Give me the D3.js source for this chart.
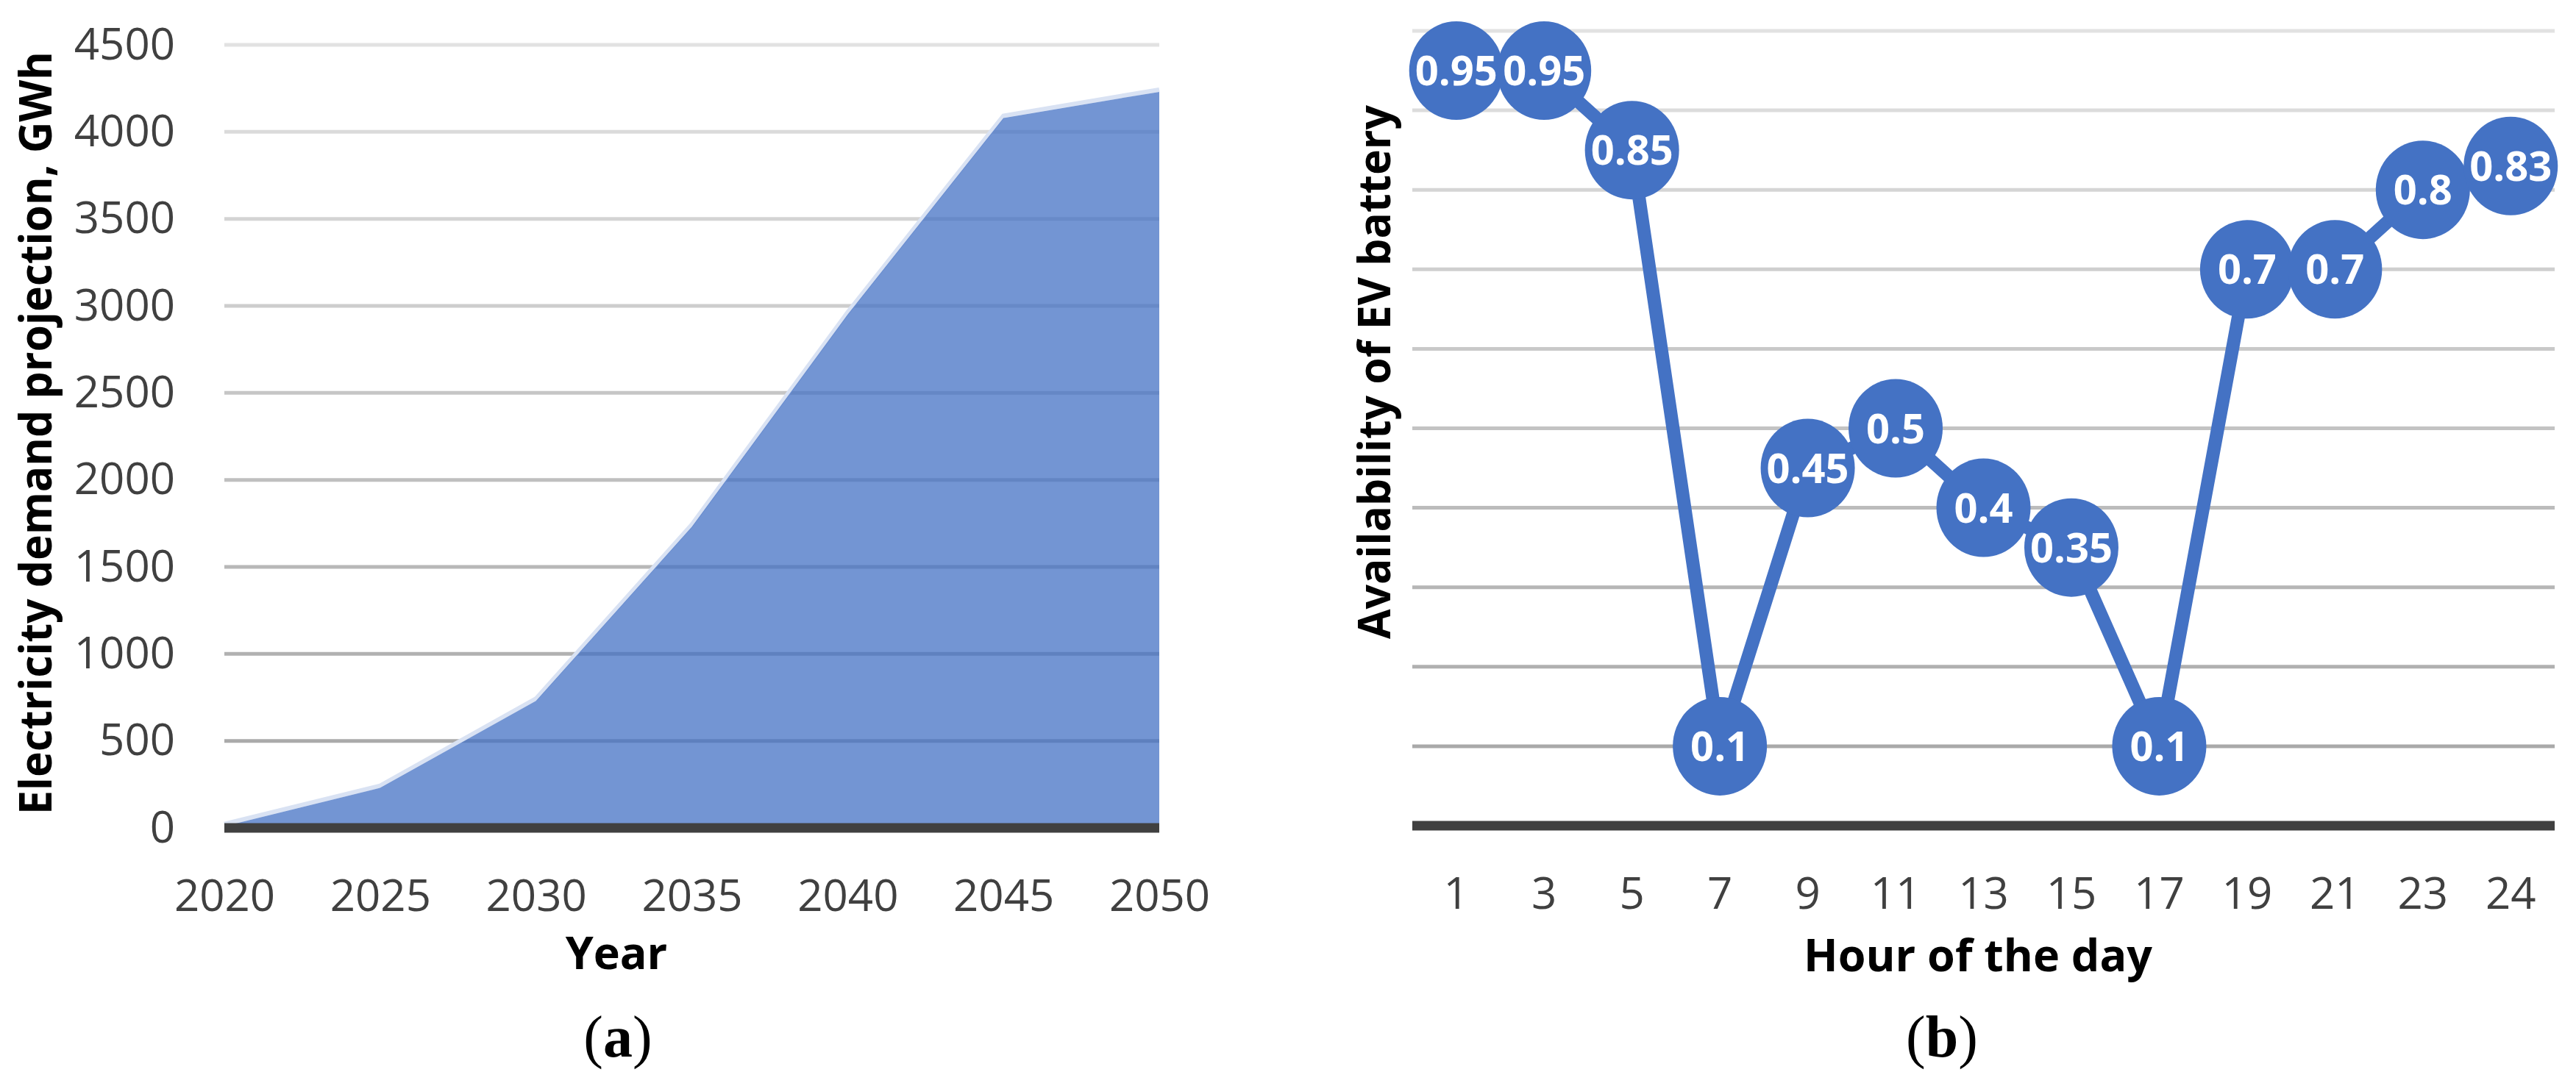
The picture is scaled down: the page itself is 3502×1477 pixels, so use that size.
<!DOCTYPE html>
<html>
<head>
<meta charset="utf-8">
<script src="https://cdn.jsdelivr.net/npm/d3@7"></script>
<style>
  body { margin: 0; background: #fff; }
  svg { display: block; }
</style>
</head>
<body>
<div id="chart"></div>
<script>
// panel (a) - electricity demand projection
var years = [2020, 2025, 2030, 2035, 2040, 2045, 2050];
var demand = [10, 230, 730, 1730, 2950, 4080, 4230];
var demandTicks = [0, 500, 1000, 1500, 2000, 2500, 3000, 3500, 4000, 4500];

// panel (b) - EV battery availability
var hours = ["1", "3", "5", "7", "9", "11", "13", "15", "17", "19", "21", "23", "24"];
var availability = [0.95, 0.95, 0.85, 0.1, 0.45, 0.5, 0.4, 0.35, 0.1, 0.7, 0.7, 0.8, 0.83];
var availTicks = [0.1, 0.2, 0.3, 0.4, 0.5, 0.6, 0.7, 0.8, 0.9, 1.0];

var W = 3502, H = 1477;
var blue = "#4472C4", dark = "#404040";
var font = "'Open Sans', 'Noto Sans', sans-serif";

var svg = d3.select("#chart").append("svg")
  .attr("width", W).attr("height", H)
  .style("font-family", font);

svg.append("rect").attr("width", W).attr("height", H).attr("fill", "#fff");

// gridlines get darker toward the bottom
function gridColor(t) { return d3.interpolateRgb("#e2e2e2", "#a3a3a3")(t); }

// ---------- (a) ----------
var xA = d3.scalePoint().domain(years).range([305, 1576]);
var yA = d3.scaleLinear().domain([0, 4500]).range([1126, 61]);

var gA = svg.append("g");

gA.selectAll(".gridA")
  .data(demandTicks.filter(function(d) { return d > 0; }))
  .enter().append("line")
  .attr("x1", xA.range()[0]).attr("x2", xA.range()[1])
  .attr("y1", function(d) { return yA(d); })
  .attr("y2", function(d) { return yA(d); })
  .attr("stroke", function(d) { return gridColor(1 - d / 4500); })
  .attr("stroke-width", 5);

var pts = years.map(function(y, i) { return [xA(y), yA(demand[i])]; });

// light edge along the top of the area
gA.append("path")
  .attr("d", d3.line()(pts))
  .attr("transform", "translate(0,-3)")
  .attr("fill", "none")
  .attr("stroke", "#d9e2f3")
  .attr("stroke-width", 6);

gA.append("path")
  .attr("d", d3.area()
    .x(function(d, i) { return xA(years[i]); })
    .y0(yA(0))
    .y1(function(d) { return yA(d); })(demand))
  .attr("fill", blue)
  .attr("fill-opacity", 0.75);

gA.append("line")
  .attr("x1", xA.range()[0]).attr("x2", xA.range()[1])
  .attr("y1", yA(0)).attr("y2", yA(0))
  .attr("stroke", dark).attr("stroke-width", 13);

var axYA = gA.append("g")
  .attr("transform", "translate(305,0)")
  .call(d3.axisLeft(yA).tickValues(demandTicks).tickFormat(d3.format("d")).tickSize(0).tickPadding(67));
axYA.select(".domain").remove();

var axXA = gA.append("g")
  .attr("transform", "translate(0," + yA(0) + ")")
  .call(d3.axisBottom(xA).tickFormat(d3.format("d")).tickSize(0).tickPadding(70));
axXA.select(".domain").remove();

gA.selectAll(".tick text")
  .attr("font-family", font)
  .attr("font-size", 60)
  .attr("fill", dark);

gA.append("text")
  .attr("transform", "translate(70,589) rotate(-90)")
  .attr("text-anchor", "middle")
  .attr("font-size", 61).attr("font-weight", "bold")
  .attr("textLength", 1038).attr("lengthAdjust", "spacingAndGlyphs")
  .attr("fill", "#000")
  .text("Electricity demand projection, GWh");

gA.append("text")
  .attr("x", 838).attr("y", 1318)
  .attr("text-anchor", "middle")
  .attr("font-size", 61).attr("font-weight", "bold")
  .attr("fill", "#000")
  .text("Year");

// ---------- (b) ----------
var xB = d3.scaleBand().domain(hours).range([1920, 3473]);
var yB = d3.scaleLinear().domain([0, 1]).range([1123, 42]);
function cx(h) { return xB(h) + xB.bandwidth() / 2; }

var gB = svg.append("g");

gB.selectAll(".gridB")
  .data(availTicks)
  .enter().append("line")
  .attr("x1", xB.range()[0]).attr("x2", xB.range()[1])
  .attr("y1", function(d) { return yB(d); })
  .attr("y2", function(d) { return yB(d); })
  .attr("stroke", function(d) { return gridColor(1 - d); })
  .attr("stroke-width", 5);

gB.append("line")
  .attr("x1", xB.range()[0]).attr("x2", xB.range()[1])
  .attr("y1", yB(0)).attr("y2", yB(0))
  .attr("stroke", dark).attr("stroke-width", 13);

var axXB = gB.append("g")
  .attr("transform", "translate(0," + yB(0) + ")")
  .call(d3.axisBottom(xB).tickSize(0).tickPadding(70));
axXB.select(".domain").remove();
axXB.selectAll(".tick text")
  .attr("font-family", font)
  .attr("font-size", 60)
  .attr("fill", dark);

gB.append("path")
  .attr("d", d3.line()
    .x(function(d, i) { return cx(hours[i]); })
    .y(function(d) { return yB(d); })(availability))
  .attr("fill", "none")
  .attr("stroke", blue)
  .attr("stroke-width", 18)
  .attr("stroke-linejoin", "round");

var marks = gB.selectAll(".mark")
  .data(availability)
  .enter().append("g")
  .attr("transform", function(d, i) { return "translate(" + cx(hours[i]) + "," + yB(d) + ")"; });

marks.append("ellipse")
  .attr("rx", 64).attr("ry", 67)
  .attr("fill", blue);

marks.append("text")
  .attr("text-anchor", "middle")
  .attr("dy", "0.36em")
  .attr("font-size", 56).attr("font-weight", "bold")
  .attr("fill", "#fff")
  .text(function(d) { return d; });

gB.append("text")
  .attr("transform", "translate(1890,506) rotate(-90)")
  .attr("text-anchor", "middle")
  .attr("font-size", 61).attr("font-weight", "bold")
  .attr("textLength", 726).attr("lengthAdjust", "spacingAndGlyphs")
  .attr("fill", "#000")
  .text("Availability of EV battery");

gB.append("text")
  .attr("x", 2689).attr("y", 1321)
  .attr("text-anchor", "middle")
  .attr("font-size", 61).attr("font-weight", "bold")
  .attr("fill", "#000")
  .text("Hour of the day");

// panel captions
var captions = [{x: 840, t: "a"}, {x: 2640, t: "b"}];
captions.forEach(function(c) {
  var t = svg.append("text")
    .attr("x", c.x).attr("y", 1437)
    .attr("text-anchor", "middle")
    .attr("font-family", "'Liberation Serif', 'DejaVu Serif', serif")
    .attr("font-size", 80)
    .attr("fill", "#000");
  t.append("tspan").text("(");
  t.append("tspan").attr("font-weight", "bold").text(c.t);
  t.append("tspan").text(")");
});
</script>
</body>
</html>
